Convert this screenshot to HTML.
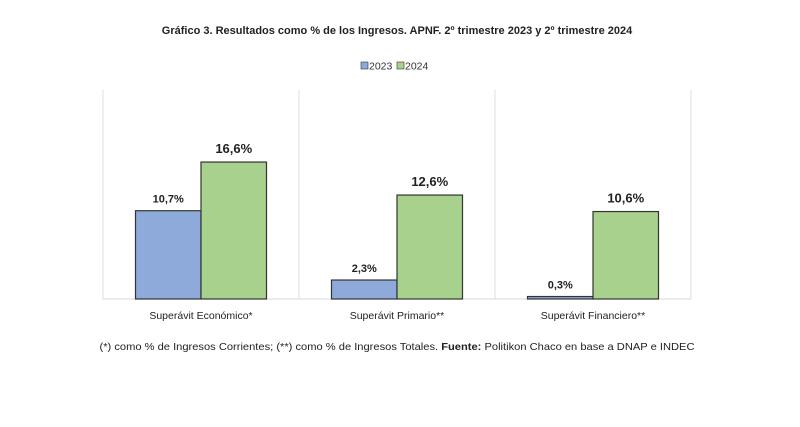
<!DOCTYPE html>
<html><head><meta charset="utf-8"><style>
body{margin:0;background:#fff;width:800px;height:422px;overflow:hidden;font-family:"Liberation Sans",sans-serif}
</style></head><body>
<svg width="800" height="422">
<text x="397" y="34" text-anchor="middle" font-size="11" font-weight="bold" fill="#222">Gráfico 3. Resultados como % de los Ingresos. APNF. 2º trimestre 2023 y 2º trimestre 2024</text>
<g>
<rect x="361" y="62" width="7" height="7" fill="#8eaadb" stroke="#333" stroke-width="0.6"/>
<text x="369" y="69.5" font-size="10.5" fill="#333">2023</text>
<rect x="397" y="62" width="7" height="7" fill="#a9d18e" stroke="#333" stroke-width="0.6"/>
<text x="405" y="69.5" font-size="10.5" fill="#333">2024</text>
</g>
<g id="plot"></g>
<text x="397" y="350" text-anchor="middle" font-size="10.5" fill="#222" textLength="595" lengthAdjust="spacingAndGlyphs">(*) como % de Ingresos Corrientes; (**) como % de Ingresos Totales. <tspan font-weight="bold">Fuente:</tspan> Politikon Chaco en base a DNAP e INDEC</text>
</svg>
<script>
const categories=["Superávit Económico*","Superávit Primario**","Superávit Financiero**"];
const values2023=[10.7,2.3,0.3];
const values2024=[16.6,12.6,10.6];
const labels2023=["10,7%","2,3%","0,3%"];
const labels2024=["16,6%","12,6%","10,6%"];
const NS="http://www.w3.org/2000/svg";
const g=document.getElementById('plot');
const base=299,k=8.25,x0=103,pw=196,bw=65.5;
function y(v){return base-v*k;}
function mk(t,a){const e=document.createElementNS(NS,t);for(const n in a)e.setAttribute(n,a[n]);g.appendChild(e);return e;}
for(let i=0;i<=categories.length;i++){
  const s=mk('line',{x1:x0+i*pw,x2:x0+i*pw,y1:90,y2:base,stroke:'#dcdcdc','stroke-width':1});
  
  
}
const ax=mk('line',{x1:x0,x2:x0+3*pw,y1:base,y2:base,stroke:'#d9d9d9','stroke-width':1});


categories.forEach((c,i)=>{
  const cx=x0+i*pw+pw/2;
  const b1=mk('rect',{x:cx-bw,y:y(values2023[i]),width:bw,height:values2023[i]*k,fill:'#8eaadb',stroke:'#333','stroke-width':1.2});
  
  
  const b2=mk('rect',{x:cx,y:y(values2024[i]),width:bw,height:values2024[i]*k,fill:'#a9d18e',stroke:'#333','stroke-width':1.2});
  
  
  const l1=mk('text',{x:cx-bw/2,y:y(values2023[i])-8,'text-anchor':'middle','font-size':11,'font-weight':600,fill:'#222'});
  l1.textContent=labels2023[i];
  
  
  const l2=mk('text',{x:cx+bw/2,y:y(values2024[i])-9,'text-anchor':'middle','font-size':13,'font-weight':600,fill:'#222'});
  l2.textContent=labels2024[i];
  
  
  const cl=mk('text',{x:cx,y:319,'text-anchor':'middle','font-size':10.5,fill:'#222'});
  cl.textContent=c;
  
  
});
</script>
</body></html>
